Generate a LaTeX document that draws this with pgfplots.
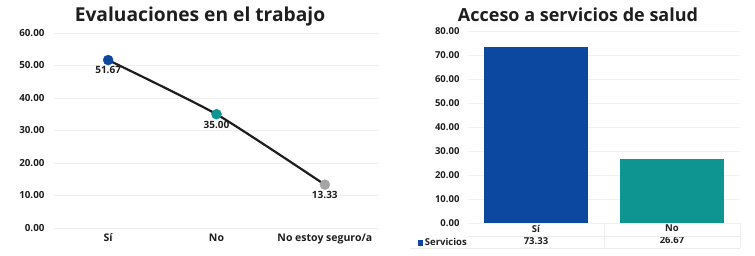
\documentclass[border=0pt]{standalone}
\usepackage{fontspec}
\setmainfont{Open Sans}
\usepackage{pgfplots}
\pgfplotsset{compat=1.18}
\definecolor{cblue}{RGB}{12,72,160}
\definecolor{cteal}{RGB}{14,148,145}
\definecolor{cgray}{RGB}{165,165,165}
\definecolor{gridc}{RGB}{240,240,240}
\definecolor{tabc}{RGB}{236,236,236}
\definecolor{txt}{RGB}{30,30,30}
\begin{document}
\begin{tikzpicture}
\useasboundingbox (0pt,0pt) rectangle (755pt,256pt);
\node[font=\fontsize{19.2}{22}\selectfont\bfseries, text=txt] at (200pt,239pt) {Evaluaciones en el trabajo};
\node[font=\fontsize{18}{22}\selectfont\bfseries, text=txt] at (578pt,241pt) {Acceso a servicios de salud};
\begin{axis}[at={(54pt,28pt)}, anchor=south west, scale only axis,
  width=325pt, height=195pt,
  xmin=-0.5, xmax=2.5, ymin=0, ymax=60,
  ytick={0,10,...,60}, xtick={0,1,2},
  xticklabels={Sí,No,No estoy seguro/a},
  axis line style={draw=none}, major tick length=0pt,
  ymajorgrids, grid style={gridc, line width=0.6pt},
  /pgf/number format/assume math mode=true,
  yticklabel style={font=\fontsize{9.8}{11}\selectfont\bfseries, text=txt, xshift=-6pt,
    /pgf/number format/.cd, fixed, fixed zerofill, precision=2},
  xticklabel style={font=\fontsize{10.5}{12}\selectfont\bfseries, text=txt, yshift=-2pt},
  clip=false,
  nodes near coords={\pgfmathprintnumber[fixed,fixed zerofill,precision=2]{\pgfplotspointmeta}},
  nodes near coords style={anchor=north, yshift=-3pt, text=txt, font=\fontsize{10}{11}\selectfont\bfseries},
]
\addplot[txt, line width=2.2pt, smooth, tension=0.35, no marks, nodes near coords={}] coordinates {(0,51.67) (1,35.00) (2,13.33)};
\addplot[only marks, mark=*, mark size=5pt, cblue] coordinates {(0,51.67)};
\addplot[only marks, mark=*, mark size=5pt, cteal] coordinates {(1,35.00)};
\addplot[only marks, mark=*, mark size=5pt, cgray] coordinates {(2,13.33)};
\end{axis}
\begin{axis}[at={(468pt,33pt)}, anchor=south west, scale only axis,
  width=272pt, height=192pt,
  xmin=-0.5, xmax=1.5, ymin=0, ymax=80,
  ytick={0,10,...,80}, xtick={0,1},
  xticklabels={Sí\\73.33, No\\26.67},
  axis line style={draw=none}, major tick length=0pt,
  ymajorgrids, grid style={gridc, line width=0.6pt},
  /pgf/number format/assume math mode=true,
  yticklabel style={font=\fontsize{9.5}{11}\selectfont\bfseries, text=txt, xshift=-5pt,
    /pgf/number format/.cd, fixed, fixed zerofill, precision=2},
  xticklabel style={font=\fontsize{9.5}{12}\selectfont\bfseries, text=txt, align=center, inner sep=1pt, yshift=-1pt},
  clip=false,
]
\addplot[ybar, bar width=104pt, bar shift=0pt, fill=cblue, draw=none] coordinates {(0,73.33)};
\addplot[ybar, bar width=104pt, bar shift=0pt, fill=cteal, draw=none] coordinates {(1,26.67)};
\end{axis}
\draw[tabc, line width=0.5pt] (468pt,20pt) -- (740pt,20pt);
\draw[tabc, line width=0.5pt] (410pt,8pt) -- (740pt,8pt);
\draw[tabc, line width=0.5pt] (604pt,8pt) -- (604pt,33pt);
\draw[tabc, line width=0.5pt] (740pt,8pt) -- (740pt,33pt);
\node[anchor=east, font=\fontsize{9.5}{11}\selectfont\bfseries, text=txt, inner sep=0pt] at (467pt,14pt) {\textcolor{cblue}{\rule{5.5pt}{5.5pt}}\,Servicios};
\end{tikzpicture}
\end{document}
